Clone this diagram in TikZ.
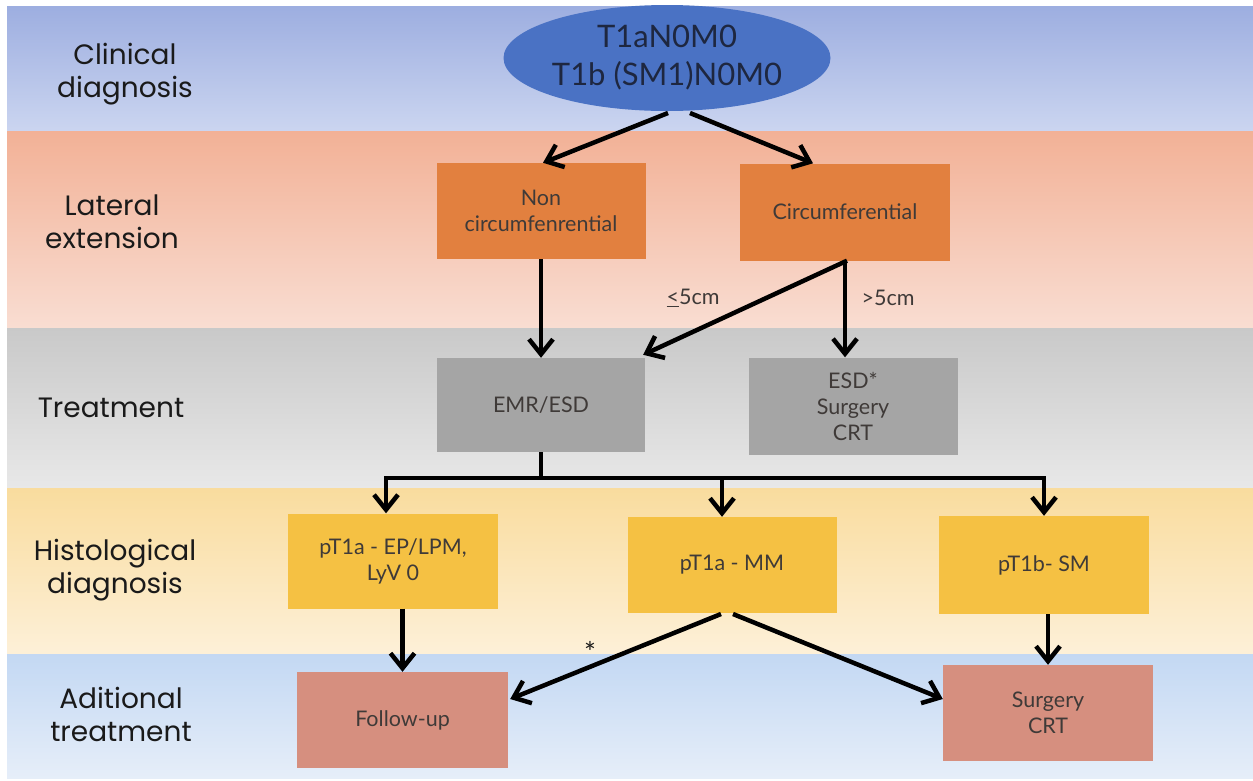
\documentclass[tikz,border=0pt]{standalone}
\usepackage{fontspec}
\setmainfont{Lato}
\newfontfamily\pop{Poppins}
\usetikzlibrary{arrows.meta,shapes.geometric}
\definecolor{bandAt}{HTML}{9DAEE0}\definecolor{bandAb}{HTML}{CBD5F0}
\definecolor{bandBt}{HTML}{F2B196}\definecolor{bandBb}{HTML}{F9DDD2}
\definecolor{bandCt}{HTML}{C9C9C9}\definecolor{bandCb}{HTML}{E8E8E8}
\definecolor{bandDt}{HTML}{F9DC9E}\definecolor{bandDb}{HTML}{FDF0D8}
\definecolor{bandEt}{HTML}{C3D8F3}\definecolor{bandEb}{HTML}{E6EEF9}
\definecolor{ellc}{HTML}{4A72C4}
\definecolor{orangec}{HTML}{E2803F}
\definecolor{grayc}{HTML}{A5A5A5}
\definecolor{yellowc}{HTML}{F5C143}
\definecolor{salmonc}{HTML}{D68F7F}
\definecolor{labc}{HTML}{1A1A1A}
\definecolor{elltxt}{HTML}{1E2740}
\definecolor{boxtxt}{HTML}{3F3A38}
\tikzset{
  lab/.style={font=\pop\fontsize{28}{33}\selectfont, align=center, text=labc, inner sep=0},
  box/.style={rectangle, inner sep=0, align=center, text=boxtxt,
              font=\fontsize{21.5}{26}\selectfont},
  obox/.style={box, fill=orangec},
  gbox/.style={box, fill=grayc},
  ybox/.style={box, fill=yellowc},
  sbox/.style={box, fill=salmonc},
  arr/.style={line width=4.5pt, draw=black,
              -{Straight Barb[length=15pt,width=24pt]}},
  conn/.style={line width=4.5pt, draw=black},
  elab/.style={font=\fontsize{21.5}{25}\selectfont, text=boxtxt, inner sep=0}
}
\begin{document}
\begin{tikzpicture}[x=1pt,y=-1pt]
\useasboundingbox (0,0) rectangle (1253,780);
\fill[white] (0,0) rectangle (1253,780);
% bands
\shade[top color=bandAt, bottom color=bandAb] (7,6) rectangle (1253,131);
\shade[top color=bandBt, bottom color=bandBb] (7,131) rectangle (1253,328);
\shade[top color=bandCt, bottom color=bandCb] (7,328) rectangle (1253,488);
\shade[top color=bandDt, bottom color=bandDb] (7,488) rectangle (1253,654);
\shade[top color=bandEt, bottom color=bandEb] (7,654) rectangle (1253,778);
% row labels
\node[lab] (l1) at (125,74) {Clinical\\diagnosis};
\node[lab] (l2) at (112,222) {Lateral\\extension};
\node[lab] (l3) at (111,408) {Treatment};
\node[lab] (l4) at (115,570) {Histological\\diagnosis};
\node[lab] (l5) at (121,714) {Aditional\\treatment};
% nodes
\node[ellipse, fill=ellc, minimum width=327pt, minimum height=106pt, inner sep=0,
      align=center, text=elltxt, font=\fontsize{31}{38}\selectfont] (ell) at (667,58)
      {T1aN0M0\\T1b (SM1)N0M0};
\node[obox, minimum width=209pt, minimum height=96pt] (nc) at (541,211) {Non\\circumfenrential};
\node[obox, minimum width=210pt, minimum height=97pt] (circ) at (845,212) {Circumferential};
\node[gbox, minimum width=208pt, minimum height=94pt] (emr) at (541,405) {EMR/ESD};
\node[gbox, minimum width=209pt, minimum height=97pt] (esd) at (853,406) {ESD*\\Surgery\\CRT};
\node[ybox, minimum width=210pt, minimum height=95pt] (h1) at (393,561) {pT1a - EP/LPM,\\LyV 0};
\node[ybox, minimum width=209pt, minimum height=96pt] (h2) at (732,565) {pT1a - MM};
\node[ybox, minimum width=210pt, minimum height=98pt] (h3) at (1044,565) {pT1b- SM};
\node[sbox, minimum width=211pt, minimum height=96pt] (fu) at (402.5,720) {Follow-up};
\node[sbox, minimum width=210pt, minimum height=96pt] (sc) at (1048,713) {Surgery\\CRT};
% connector coordinates
\coordinate (e1) at (668,113);
\coordinate (e2) at (690,113);
\coordinate (bL) at (386,478);
\coordinate (bM) at (722,478);
\coordinate (bR) at (1044,478);
\coordinate (m1) at (721,614);
\coordinate (m2) at (733,614);
% connectors
\draw[arr] (e1) -- ([xshift=2pt]nc.north);
\draw[arr] (e2) -- ([xshift=-32pt]circ.north);
\draw[arr] (nc.south) -- (emr.north);
\draw[arr] ([xshift=2pt]circ.south) -- ([xshift=-2pt,yshift=3pt]emr.north east);
\draw[arr] (circ.south) -- (circ.south |- esd.north);
\draw[conn] (emr.south) -- (emr.south |- bL);
\draw[conn, line cap=rect] (bL) -- (bR);
\draw[arr] (bL) -- (bL |- h1.north);
\draw[arr] (bM) -- (bM |- h2.north);
\draw[arr] (bR) -- (h3.north);
\draw[arr] (fu.north |- h1.south) -- (fu.north);
\draw[arr] (m1) -- ([xshift=2pt,yshift=21pt]fu.east);
\draw[arr] (m2) -- ([yshift=14pt]sc.west);
\draw[arr] (sc.north |- h3.south) -- (sc.north);
% edge labels
\node[elab] (t1) at (693,298) {\underline{<}5cm};
\node[elab] (t2) at (888,298) {>5cm};
\node[elab, font=\fontsize{28}{28}\selectfont, text=labc] (t3) at (590,652) {*};
\end{tikzpicture}
\end{document}
